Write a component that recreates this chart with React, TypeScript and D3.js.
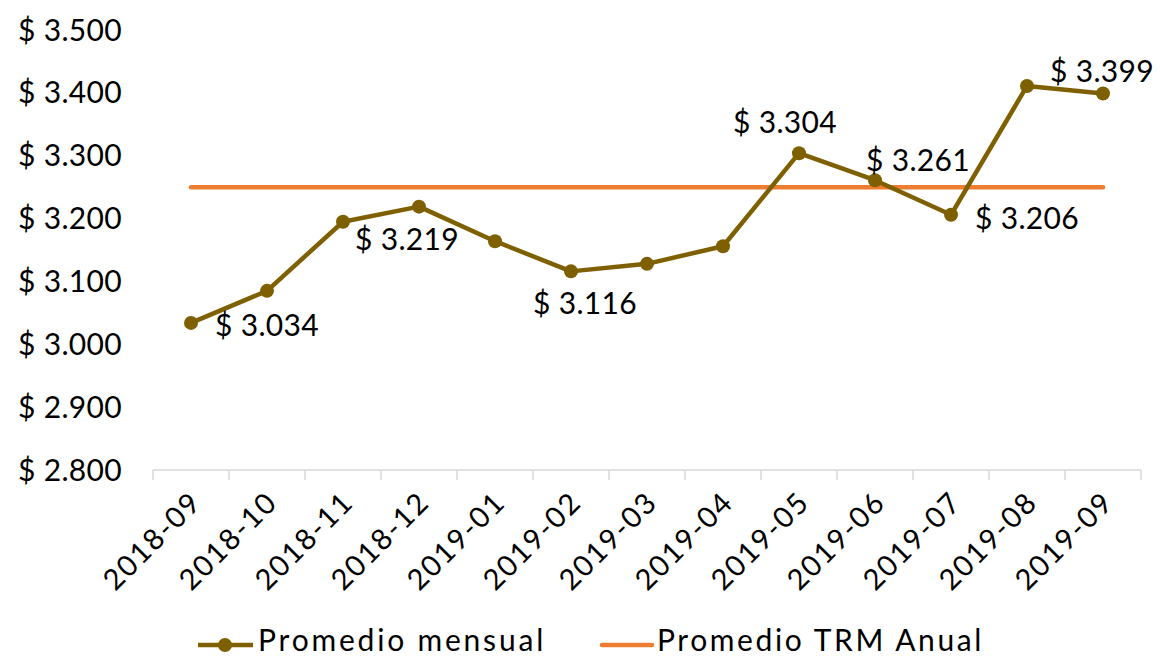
import React from "react";
import * as d3 from "d3";

const categories = ["2018-09","2018-10","2018-11","2018-12","2019-01","2019-02","2019-03","2019-04","2019-05","2019-06","2019-07","2019-08","2019-09"];
const monthly = [3034, 3085, 3195, 3219, 3164, 3116, 3128, 3156, 3304, 3261, 3206, 3411, 3399];
const annualAvg = 3250;
const yTicks = [2800, 2900, 3000, 3100, 3200, 3300, 3400, 3500];
const labeledIdx = [0, 3, 5, 8, 9, 10, 12];

const W = 1160, H = 656;
const FONT = "'Lato', 'Open Sans', sans-serif";
const fmt = (v: number) => "$ " + d3.format(",")(v).replace(/,/g, ".");

// label placement offsets relative to the point (layout, not data)
const labelLayout: Record<number, { dx: number; dy: number; anchor: string }> = {
  0: { dx: 24, dy: 3, anchor: "start" },
  3: { dx: -12, dy: 33, anchor: "middle" },
  5: { dx: 14, dy: 32, anchor: "middle" },
  8: { dx: -14, dy: -31, anchor: "middle" },
  9: { dx: -9, dy: -20, anchor: "start" },
  10: { dx: 24, dy: 4, anchor: "start" },
  12: { dx: -1, dy: -22, anchor: "middle" },
};

export default function App() {
  const x = d3.scaleBand<string>().domain(categories).range([153, 1141]);
  const y = d3.scaleLinear().domain([2800, 3500]).range([470, 30]);
  const cx = (c: string) => (x(c) as number) + x.bandwidth() / 2;
  const line = d3.line<number>().x((_, i) => cx(categories[i])).y(d => y(d));
  const tickXs = categories.map(c => x(c) as number).concat([x.range()[1]]);

  return (
    <svg width={W} height={H} style={{ position: "absolute", left: 0, top: 0, background: "#fff" }} fontFamily={FONT}>
      {yTicks.map(t => (
        <text key={t} x={18} y={y(t)} dy="0.35em" fontSize={30} letterSpacing={0.3} fill="#000">{fmt(t)}</text>
      ))}
      <line x1={153} x2={1141} y1={470} y2={470} stroke="#d9d9d9" strokeWidth={1.5} />
      {tickXs.map((tx, i) => (
        <line key={i} x1={tx} x2={tx} y1={470} y2={480} stroke="#d9d9d9" strokeWidth={1.5} />
      ))}
      {categories.map(c => (
        <text key={c} transform={`translate(${cx(c) + 5},${497}) rotate(-45)`} textAnchor="end" dy="0.35em" fontSize={29} letterSpacing={1.8} fill="#000">{c}</text>
      ))}
      <line x1={cx(categories[0])} x2={cx(categories[categories.length - 1])} y1={y(annualAvg)} y2={y(annualAvg)} stroke="#ed7d31" strokeWidth={4.5} strokeLinecap="round" />
      <path d={line(monthly) || ""} fill="none" stroke="#7f6000" strokeWidth={4.5} strokeLinejoin="round" />
      {monthly.map((v, i) => (
        <circle key={i} cx={cx(categories[i])} cy={y(v)} r={7} fill="#7f6000" />
      ))}
      {labeledIdx.map(i => {
        const px = cx(categories[i]);
        const py = y(monthly[i]);
        const L = labelLayout[i];
        return <text key={i} x={px + L.dx} y={py + L.dy} dy="0.35em" textAnchor={L.anchor} fontSize={30} letterSpacing={0.3} fill="#000">{fmt(monthly[i])}</text>;
      })}
      <g>
        <line x1={198} x2={253} y1={645} y2={645} stroke="#7f6000" strokeWidth={4.5} />
        <circle cx={225} cy={645} r={7} fill="#7f6000" />
        <text x={258} y={651} fontSize={30} letterSpacing={2.8} fill="#000">Promedio mensual</text>
        <line x1={602} x2={652} y1={645} y2={645} stroke="#ed7d31" strokeWidth={4.5} strokeLinecap="round" />
        <text x={657} y={651} fontSize={30} letterSpacing={2.6} fill="#000">Promedio TRM Anual</text>
      </g>
    </svg>
  );
}
